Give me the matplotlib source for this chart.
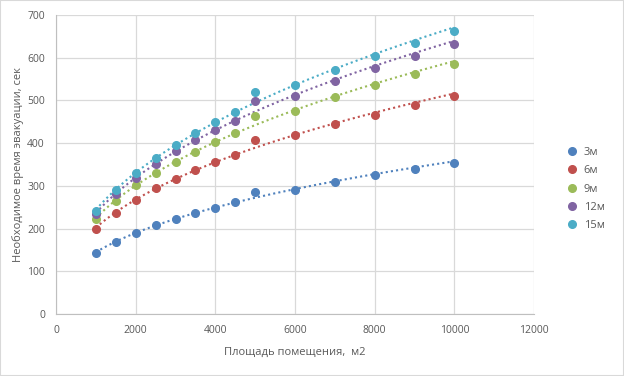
import numpy as np
import matplotlib
matplotlib.use("Agg")
import matplotlib.pyplot as plt
from matplotlib.patches import Rectangle

plt.rcParams['font.family'] = ['Open Sans', 'DejaVu Sans']

area = [1000, 1500, 2000, 2500, 3000, 3500, 4000, 4500, 5000, 6000, 7000, 8000, 9000, 10000]
t_3m = [143, 169, 190, 208, 222, 237, 249, 262, 285, 291, 309, 325, 340, 354]
t_6m = [200, 237, 268, 294, 316, 337, 357, 373, 407, 418, 444, 467, 490, 511]
t_9m = [222, 265, 302, 331, 357, 380, 403, 423, 464, 476, 507, 535, 561, 585]
t_12m = [234, 281, 318, 351, 382, 407, 431, 453, 499, 511, 545, 576, 605, 631]
t_15m = [242, 290, 330, 365, 396, 424, 449, 473, 520, 535, 571, 604, 634, 663]

labels = ['3м', '6м', '9м', '12м', '15м']
colors = ['#4F81BD', '#C0504D', '#9BBB59', '#8064A2', '#4BACC6']
series = [t_3m, t_6m, t_9m, t_12m, t_15m]

fig = plt.figure(figsize=(6.24, 3.76), dpi=100)
ax = fig.add_axes([56 / 624, 1 - 314 / 376, (534 - 56) / 624, (314 - 15) / 376])

x = np.array(area, dtype=float)
xf = np.linspace(x.min(), x.max(), 200)
for y, c, lab in zip(series, colors, labels):
    y = np.array(y, dtype=float)
    # power trendline, like Excel
    b, a = np.polyfit(np.log(x), np.log(y), 1)
    ax.plot(xf, np.exp(a) * xf ** b, linestyle=(0, (1, 1.5)), color=c, lw=1.5, zorder=2)
    ax.plot(x, y, 'o', color=c, ms=5.5, label=lab, zorder=3)

ax.set_xlim(0, 12000)
ax.set_ylim(0, 700)
ax.set_xticks(range(0, 12001, 2000))
ax.set_yticks(range(0, 701, 100))
ax.grid(True, color='#d9d9d9', lw=0.9)
ax.set_axisbelow(True)
for s in ['top', 'right']:
    ax.spines[s].set_visible(False)
for s in ['left', 'bottom']:
    ax.spines[s].set_color('#bfbfbf')
ax.tick_params(length=0, colors='#595959', labelsize=7.5, pad=8)

ax.set_xlabel('Площадь помещения,  м2', color='#595959', fontsize=8, labelpad=8)
ax.set_ylabel('Необходимое время эвакуации, сек', color='#595959', fontsize=8, labelpad=2)

leg = ax.legend(loc='center left', bbox_to_anchor=(1.045, 0.418), frameon=False,
                fontsize=8, labelcolor='#595959', handletextpad=0.45,
                labelspacing=0.65, handlelength=1.2)

fig.patches.append(Rectangle((0, 0), 1, 1, transform=fig.transFigure, fill=False,
                             edgecolor='#d9d9d9', lw=1.5))

fig.savefig('out.png', dpi=100)
